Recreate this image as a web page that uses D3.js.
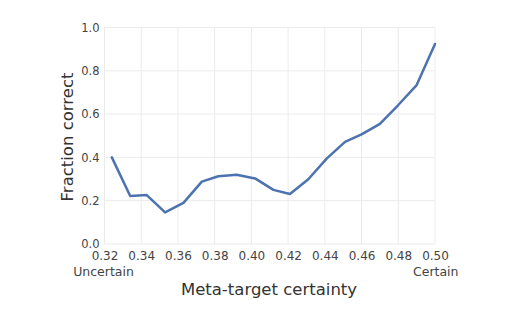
<!DOCTYPE html>
<html><head><meta charset="utf-8">
<script src="https://cdn.jsdelivr.net/npm/d3@7"></script>
<style>body{margin:0;background:#fff}svg{display:block}text{font-family:"DejaVu Sans",sans-serif}</style>
</head><body>
<svg id="c" width="521" height="315"></svg>
<script>
const certainty = [0.324,0.334,0.343,0.353,0.363,0.373,0.382,0.392,0.402,0.412,0.421,0.431,0.441,0.451,0.460,0.470,0.480,0.490,0.500];
const fraction  = [0.400,0.222,0.226,0.146,0.190,0.288,0.313,0.320,0.303,0.250,0.231,0.299,0.394,0.472,0.506,0.555,0.642,0.734,0.924];
const xTicks = [0.32,0.34,0.36,0.38,0.40,0.42,0.44,0.46,0.48,0.50];
const yTicks = [0.0,0.2,0.4,0.6,0.8,1.0];

const svg = d3.select("#c");
const L=104.5, R=435, T=27.5, B=244;
const x = d3.scaleLinear().domain([0.32,0.50]).range([L,R]);
const y = d3.scaleLinear().domain([0,1]).range([B,T]);

svg.append("g").selectAll("line").data(xTicks).join("line")
  .attr("x1",d=>x(d)).attr("x2",d=>x(d)).attr("y1",T).attr("y2",B)
  .attr("stroke","#ebebeb").attr("stroke-width",1);
svg.append("g").selectAll("line").data(yTicks).join("line")
  .attr("y1",d=>y(d)).attr("y2",d=>y(d)).attr("x1",L).attr("x2",R)
  .attr("stroke","#ebebeb").attr("stroke-width",1);

const xa = svg.append("g").attr("transform",`translate(0,${B})`)
  .call(d3.axisBottom(x).tickValues(xTicks).tickFormat(d3.format(".2f")).tickSize(0).tickPadding(7));
const ya = svg.append("g").attr("transform",`translate(${L},0)`)
  .call(d3.axisLeft(y).tickValues(yTicks).tickFormat(d3.format(".1f")).tickSize(0).tickPadding(5));
xa.select(".domain").remove(); ya.select(".domain").remove();
xa.selectAll("text").attr("fill","#444").style("font-size","12px").style("font-family","DejaVu Sans");
ya.selectAll("text").attr("fill","#444").style("font-size","11.5px").style("font-family","DejaVu Sans");

svg.append("path").datum(certainty.map((c,i)=>[c,fraction[i]]))
  .attr("fill","none").attr("stroke","#4c72b0").attr("stroke-width",2.5)
  .attr("stroke-linejoin","round").attr("stroke-linecap","round")
  .attr("d",d3.line().x(d=>x(d[0])).y(d=>y(d[1])));

svg.append("text").attr("x",103.5).attr("y",276).attr("text-anchor","middle")
  .attr("fill","#444").style("font-size","12.5px").text("Uncertain");
svg.append("text").attr("x",458.5).attr("y",276).attr("text-anchor","end")
  .attr("fill","#444").style("font-size","12.5px").text("Certain");
svg.append("text").attr("x",269).attr("y",295).attr("text-anchor","middle")
  .attr("fill","#333").style("font-size","16.5px").text("Meta-target certainty");
svg.append("text").attr("transform","translate(73,137) rotate(-90)").attr("text-anchor","middle")
  .attr("fill","#333").style("font-size","16.5px").text("Fraction correct");
</script>
</body></html>
